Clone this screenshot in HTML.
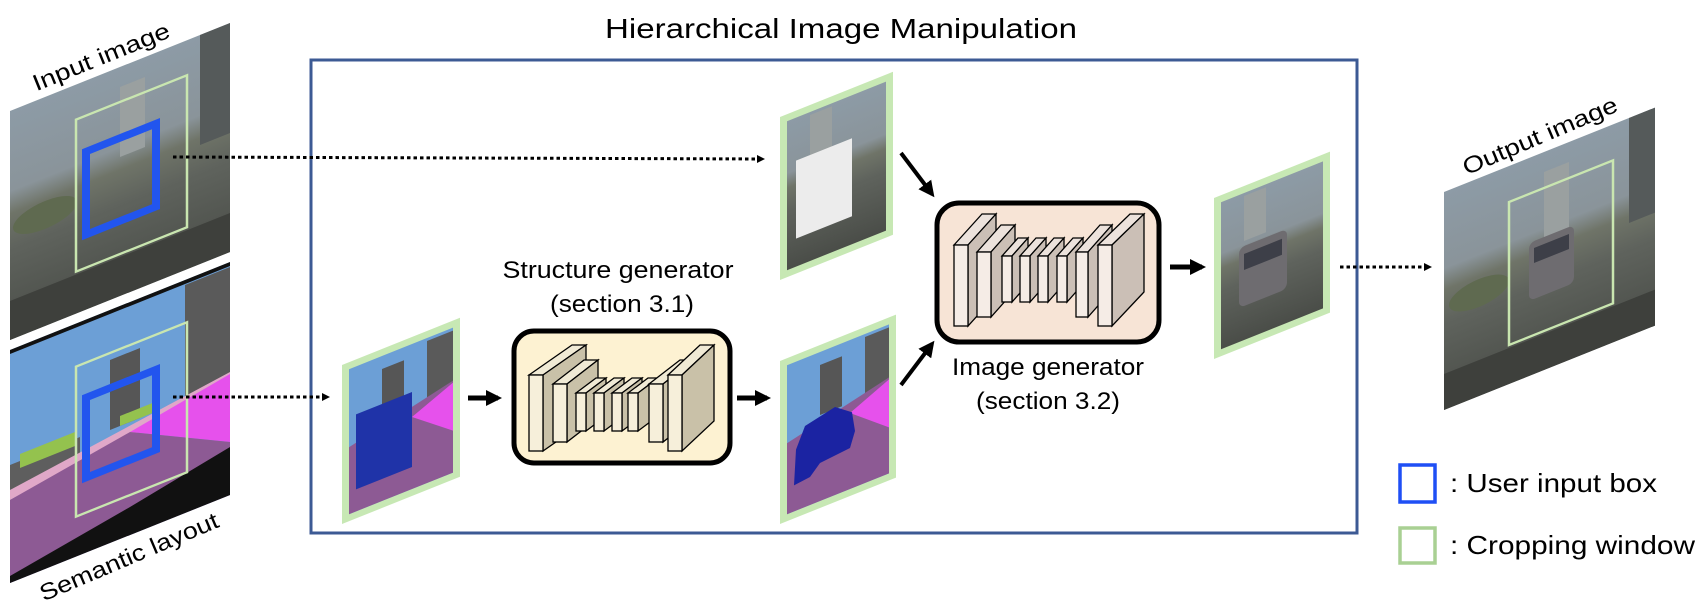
<!DOCTYPE html>
<html><head><meta charset="utf-8"><style>
html,body{margin:0;padding:0;background:#fff;}
svg{display:block;font-family:"Liberation Sans",sans-serif;}
</style></head><body>
<svg width="1702" height="606" viewBox="0 0 1702 606" xmlns="http://www.w3.org/2000/svg">
<defs>
  <marker id="ah" markerWidth="8" markerHeight="8" refX="6" refY="4" orient="auto" markerUnits="userSpaceOnUse">
    <path d="M0,0 L8,4 L0,8 z" fill="#000"/>
  </marker>
  <marker id="ahb" markerWidth="16" markerHeight="16" refX="12" refY="8" orient="auto" markerUnits="userSpaceOnUse">
    <path d="M0,0 L16,8 L0,16 z" fill="#000"/>
  </marker>
  <linearGradient id="street" x1="0" y1="0" x2="0" y2="1">
    <stop offset="0" stop-color="#8d9ba6"/>
    <stop offset="0.35" stop-color="#8a949a"/>
    <stop offset="0.45" stop-color="#6f7468"/>
    <stop offset="0.6" stop-color="#5f635d"/>
    <stop offset="1" stop-color="#4a4d48"/>
  </linearGradient>
</defs>

<text x="605" y="38" font-size="28" textLength="472" lengthAdjust="spacingAndGlyphs">Hierarchical Image Manipulation</text>

<rect x="311" y="60" width="1046" height="473" fill="none" stroke="#3c5a94" stroke-width="3"/>

<!-- Input image -->
<g transform="matrix(1,-0.4,0,1,10,111)">
  <rect x="0" y="0" width="220" height="229" fill="url(#street)"/>
  <rect x="190" y="0" width="30" height="110" fill="#555a5a"/>
  <rect x="110" y="20" width="25" height="70" fill="#9aa0a0"/>
  <ellipse cx="35" cy="118" rx="32" ry="14" fill="#5f6a50"/>
  <rect x="0" y="190" width="220" height="39" fill="#3e403c"/>
  <rect x="66" y="35" width="111" height="152" fill="none" stroke="#c9e6b0" stroke-width="2.5"/>
  <rect x="76" y="71" width="70" height="83" fill="none" stroke="#2255ee" stroke-width="8"/>
</g>
<!-- Semantic layout -->
<g transform="matrix(1,-0.4,0,1,10,350)">
  <rect x="0" y="0" width="220" height="233" fill="#6c9fd6"/>
  <rect x="0" y="0" width="220" height="4" fill="#111"/>
  <rect x="100" y="50" width="30" height="70" fill="#565656"/>
  <rect x="175" y="5" width="45" height="115" fill="#5a5a5a"/>
  <rect x="0" y="115" width="70" height="25" fill="#5e5e5e"/>
  <rect x="10" y="108" width="55" height="14" fill="#94c24e"/>
  <rect x="110" y="110" width="35" height="10" fill="#94c24e"/>
  <polygon points="0,140 220,110 220,122 0,150" fill="#e0a8c8"/>
  <polygon points="120,130 220,112 220,180" fill="#e651ec"/>
  <polygon points="0,150 120,130 220,180 220,233 0,233" fill="#8d5a94"/>
  <polygon points="0,233 0,226 120,205 220,185 220,233" fill="#111"/>
  <rect x="66" y="43" width="111" height="150" fill="none" stroke="#c9e6b0" stroke-width="2.5"/>
  <rect x="76" y="78" width="70" height="80" fill="none" stroke="#2255ee" stroke-width="8"/>
</g>
<text transform="translate(104,64) rotate(-22)" font-size="23" text-anchor="middle" textLength="146" lengthAdjust="spacingAndGlyphs">Input image</text>
<text transform="translate(132,564) rotate(-23)" font-size="23" text-anchor="middle" textLength="192" lengthAdjust="spacingAndGlyphs">Semantic layout</text>

<!-- Panel A -->
<g transform="matrix(1,-0.4,0,1,342,365)">
  <rect x="0" y="0" width="118" height="159" fill="#c7e8b4"/>
  <rect x="7" y="7" width="104" height="145" fill="#6c9fd6"/>
  <rect x="40" y="20" width="22" height="50" fill="#565656"/>
  <rect x="85" y="10" width="26" height="60" fill="#5a5a5a"/>
  <polygon points="7,85 111,60 111,152 7,152" fill="#8d5a94"/>
  <polygon points="70,80 111,62 111,110" fill="#e651ec"/>
  <rect x="14" y="55" width="56" height="75" fill="#1f33a8"/>
</g>
<!-- Panel B -->
<g transform="matrix(1,-0.4,0,1,780,117)">
  <rect x="0" y="0" width="113" height="163" fill="#c7e8b4"/>
  <rect x="7" y="7" width="99" height="149" fill="url(#street)"/>
  <rect x="30" y="10" width="22" height="45" fill="#9aa0a0"/>
  <rect x="16" y="50" width="56" height="78" fill="#ececec"/>
</g>
<!-- Panel C -->
<g transform="matrix(1,-0.4,0,1,780,361)">
  <rect x="0" y="0" width="116" height="163" fill="#c7e8b4"/>
  <rect x="7" y="7" width="102" height="149" fill="#6c9fd6"/>
  <rect x="40" y="20" width="22" height="50" fill="#565656"/>
  <rect x="85" y="10" width="24" height="60" fill="#5a5a5a"/>
  <polygon points="7,85 109,60 109,156 7,156" fill="#8d5a94"/>
  <polygon points="70,80 109,62 109,110" fill="#e651ec"/>
  <path d="M14,130 L16,95 L25,75 L55,68 L72,80 L75,100 L70,115 L40,118 L30,128 Z" fill="#1b23a2"/>
</g>
<!-- Panel D -->
<g transform="matrix(1,-0.4,0,1,1214,198)">
  <rect x="0" y="0" width="116" height="161" fill="#c7e8b4"/>
  <rect x="7" y="7" width="102" height="147" fill="url(#street)"/>
  <rect x="30" y="10" width="22" height="45" fill="#9aa0a0"/>
  <rect x="25" y="60" width="48" height="60" rx="6" fill="#6e6c70"/>
  <rect x="30" y="68" width="38" height="16" fill="#3d3f48"/>
</g>
<!-- Output image -->
<g transform="matrix(1,-0.4,0,1,1444,192)">
  <rect x="0" y="0" width="211" height="218" fill="url(#street)"/>
  <rect x="185" y="0" width="26" height="105" fill="#555a5a"/>
  <rect x="100" y="20" width="25" height="70" fill="#9aa0a0"/>
  <ellipse cx="35" cy="115" rx="30" ry="14" fill="#5f6a50"/>
  <rect x="85" y="85" width="45" height="58" rx="6" fill="#6e6c70"/>
  <rect x="90" y="92" width="35" height="15" fill="#3d3f48"/>
  <rect x="0" y="182" width="211" height="36" fill="#3e403c"/>
  <rect x="65" y="36" width="104" height="143" fill="none" stroke="#c9e6b0" stroke-width="2.5"/>
</g>
<text transform="translate(1543,143) rotate(-23)" font-size="23" text-anchor="middle" textLength="166" lengthAdjust="spacingAndGlyphs">Output image</text>

<line x1="173" y1="157" x2="763" y2="159" stroke="#000" stroke-width="3" stroke-dasharray="3.5 3" marker-end="url(#ah)"/>
<line x1="173" y1="397" x2="328" y2="397" stroke="#000" stroke-width="3" stroke-dasharray="3.5 3" marker-end="url(#ah)"/>
<line x1="1340" y1="267" x2="1430" y2="267" stroke="#000" stroke-width="3" stroke-dasharray="3.5 3" marker-end="url(#ah)"/>

<line x1="468" y1="398" x2="498" y2="398" stroke="#000" stroke-width="5" marker-end="url(#ahb)"/>
<line x1="737" y1="398" x2="767" y2="398" stroke="#000" stroke-width="5" marker-end="url(#ahb)"/>
<line x1="1170" y1="267" x2="1202" y2="267" stroke="#000" stroke-width="5" marker-end="url(#ahb)"/>
<line x1="901" y1="153" x2="932" y2="194" stroke="#000" stroke-width="4" marker-end="url(#ahb)"/>
<line x1="901" y1="385" x2="932" y2="344" stroke="#000" stroke-width="4" marker-end="url(#ahb)"/>

<!-- Structure generator -->
<rect x="514" y="331" width="216" height="132" rx="20" fill="#fdf2d2" stroke="#000" stroke-width="5"/>
<g fill="#f6efda" stroke="#000" stroke-width="1.3">
  <g><polygon points="529,375 572,345 586,345 543,375" fill="#f0ead5"/><polygon points="543,375 586,345 586,421 543,451" fill="#c9c1a8"/><rect x="529" y="375" width="14" height="76"/></g>
  <g><polygon points="553,384 584,360 598,360 567,384" fill="#f0ead5"/><polygon points="567,384 598,360 598,418 567,442" fill="#c9c1a8"/><rect x="553" y="384" width="14" height="58"/></g>
  <g><polygon points="576,393 596,378 606,378 586,393" fill="#f0ead5"/><polygon points="586,393 606,378 606,416 586,431" fill="#c9c1a8"/><rect x="576" y="393" width="10" height="38"/></g>
  <g><polygon points="594,393 614,378 624,378 604,393" fill="#f0ead5"/><polygon points="604,393 624,378 624,416 604,431" fill="#c9c1a8"/><rect x="594" y="393" width="10" height="38"/></g>
  <g><polygon points="612,393 632,378 642,378 622,393" fill="#f0ead5"/><polygon points="622,393 642,378 642,416 622,431" fill="#c9c1a8"/><rect x="612" y="393" width="10" height="38"/></g>
  <g><polygon points="628,393 648,378 658,378 638,393" fill="#f0ead5"/><polygon points="638,393 658,378 658,416 638,431" fill="#c9c1a8"/><rect x="628" y="393" width="10" height="38"/></g>
  <g><polygon points="649,384 680,360 694,360 663,384" fill="#f0ead5"/><polygon points="663,384 694,360 694,418 663,442" fill="#c9c1a8"/><rect x="649" y="384" width="14" height="58"/></g>
  <g><polygon points="668,375 700,345 714,345 682,375" fill="#f0ead5"/><polygon points="682,375 714,345 714,421 682,451" fill="#c9c1a8"/><rect x="668" y="375" width="14" height="76"/></g>
</g>
<text x="618" y="278" font-size="24" text-anchor="middle" textLength="231" lengthAdjust="spacingAndGlyphs">Structure generator</text>
<text x="622" y="312" font-size="24" text-anchor="middle" textLength="144" lengthAdjust="spacingAndGlyphs">(section 3.1)</text>

<!-- Image generator -->
<rect x="937" y="203" width="222" height="139" rx="22" fill="#f7e4d6" stroke="#000" stroke-width="5"/>
<g fill="#f5ece6" stroke="#000" stroke-width="1.3">
  <g><polygon points="954,245 982,214 996,214 968,245" fill="#ece2dc"/><polygon points="968,245 996,214 996,295 968,326" fill="#cbbfb6"/><rect x="954" y="245" width="14" height="81"/></g>
  <g><polygon points="977,252 1001,225 1015,225 991,252" fill="#ece2dc"/><polygon points="991,252 1015,225 1015,290 991,317" fill="#cbbfb6"/><rect x="977" y="252" width="14" height="65"/></g>
  <g><polygon points="1002,256 1018,238 1028,238 1012,256" fill="#ece2dc"/><polygon points="1012,256 1028,238 1028,284 1012,302" fill="#cbbfb6"/><rect x="1002" y="256" width="10" height="46"/></g>
  <g><polygon points="1020,256 1036,238 1046,238 1030,256" fill="#ece2dc"/><polygon points="1030,256 1046,238 1046,284 1030,302" fill="#cbbfb6"/><rect x="1020" y="256" width="10" height="46"/></g>
  <g><polygon points="1038,256 1054,238 1064,238 1048,256" fill="#ece2dc"/><polygon points="1048,256 1064,238 1064,284 1048,302" fill="#cbbfb6"/><rect x="1038" y="256" width="10" height="46"/></g>
  <g><polygon points="1057,256 1073,238 1083,238 1067,256" fill="#ece2dc"/><polygon points="1067,256 1083,238 1083,284 1067,302" fill="#cbbfb6"/><rect x="1057" y="256" width="10" height="46"/></g>
  <g><polygon points="1076,252 1100,225 1112,225 1088,252" fill="#ece2dc"/><polygon points="1088,252 1112,225 1112,290 1088,317" fill="#cbbfb6"/><rect x="1076" y="252" width="12" height="65"/></g>
  <g><polygon points="1098,245 1130,214 1144,214 1112,245" fill="#ece2dc"/><polygon points="1112,245 1144,214 1144,292 1112,326" fill="#cbbfb6"/><rect x="1098" y="245" width="14" height="81"/></g>
</g>
<text x="1048" y="375" font-size="24" text-anchor="middle" textLength="192" lengthAdjust="spacingAndGlyphs">Image generator</text>
<text x="1048" y="409" font-size="24" text-anchor="middle" textLength="144" lengthAdjust="spacingAndGlyphs">(section 3.2)</text>

<rect x="1400" y="465" width="35" height="37" fill="none" stroke="#1f4ff5" stroke-width="3.5"/>
<text x="1450" y="492" font-size="26" textLength="207" lengthAdjust="spacingAndGlyphs">: User input box</text>
<rect x="1400" y="528" width="35" height="35" fill="none" stroke="#a9d093" stroke-width="3.5"/>
<text x="1450" y="554" font-size="26" textLength="245" lengthAdjust="spacingAndGlyphs">: Cropping window</text>
</svg>
</body></html>
